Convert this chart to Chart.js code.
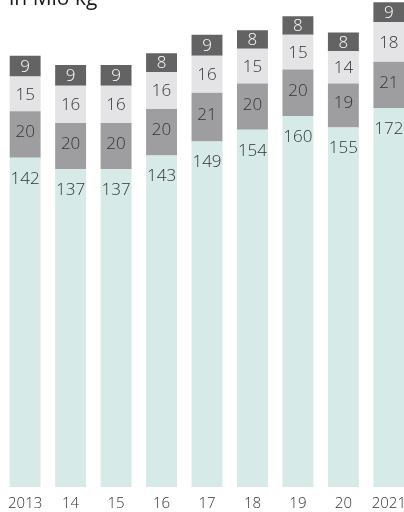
<!DOCTYPE html>
<html>
<head>
<meta charset="utf-8">
<script src="https://cdn.jsdelivr.net/npm/chart.js@4/dist/chart.umd.min.js"></script>
<style>
  html, body { margin: 0; padding: 0; background: #fff; overflow: hidden; }
  #wrap { position: relative; width: 414px; height: 521px; }
</style>
</head>
<body>
<div id="wrap"><canvas id="barChart"></canvas></div>
<script>
// data
var years = ['2013', '14', '15', '16', '17', '18', '19', '20', '2021'];
var tealVals = [142, 137, 137, 143, 149, 154, 160, 155, 172];
var midVals = [20, 20, 20, 20, 21, 20, 20, 19, 21];
var lightVals = [15, 16, 16, 16, 16, 15, 15, 14, 18];
var darkVals = [9, 9, 9, 8, 9, 8, 8, 8, 9];

var segColors = ['#d6ebe7', '#9e9ea1', '#e4e4e6', '#636364'];
var segValues = [tealVals, midVals, lightVals, darkVals];

// the last bar is drawn a bit squashed in the original, so it gets its own axis
var lastIdx = years.length - 1;
var datasets = [];
segValues.forEach(function (vals, s) {
  datasets.push({
    seg: s,
    data: vals.map(function (v, i) { return i < lastIdx ? v : null; }),
    backgroundColor: segColors[s],
    yAxisID: 'y'
  });
});
segValues.forEach(function (vals, s) {
  datasets.push({
    seg: s,
    data: vals.map(function (v, i) { return i === lastIdx ? v : null; }),
    backgroundColor: segColors[s],
    yAxisID: 'y2'
  });
});

//***************//
// LABELS
//***************//
var segLabels = {
  id: 'segLabels',
  afterDatasetsDraw: function (chart) {
    var ctx = chart.ctx;
    ctx.save();
    ctx.font = '300 17px "Open Sans"';
    ctx.textAlign = 'center';
    ctx.textBaseline = 'middle';
    chart.data.datasets.forEach(function (ds, d) {
      var meta = chart.getDatasetMeta(d);
      meta.data.forEach(function (bar, i) {
        var v = ds.data[i];
        if (v === null || v === undefined) return;
        var p = bar.getProps(['x', 'y', 'base'], true);
        var cy = (p.y + p.base) / 2;
        if (ds.seg === 0) cy = p.y + 20;
        if (ds.seg === 1) cy = cy - 3;
        ctx.fillStyle = ds.seg === 3 ? '#ffffff' : '#333333';
        ctx.fillText(String(v), p.x, cy + 1);
      });
    });
    // unit caption, cut off at the top like in the original
    ctx.textAlign = 'left';
    ctx.textBaseline = 'alphabetic';
    ctx.font = '21px "Open Sans"';
    ctx.fillStyle = '#1a1a1a';
    ctx.fillText('in Mio kg', 9, 5);
    ctx.restore();
  }
};

var ctx = document.getElementById('barChart');

new Chart(ctx, {
  type: 'bar',
  data: {
    labels: years,
    datasets: datasets
  },
  options: {
    responsive: true,
    maintainAspectRatio: false,
    animation: false,
    layout: {
      padding: { left: 2, right: 1, top: 0, bottom: 0 }
    },
    datasets: {
      bar: {
        grouped: false,
        categoryPercentage: 1,
        barPercentage: 0.68,
        borderWidth: 0
      }
    },
    plugins: {
      legend: { display: false },
      tooltip: { enabled: false }
    },
    scales: {
      x: {
        stacked: true,
        grid: { display: false, drawTicks: false },
        border: { display: false },
        ticks: {
          padding: 8,
          color: '#333333',
          font: { family: 'Open Sans', size: 15, weight: '300', lineHeight: 1.2 }
        }
      },
      y: {
        stacked: true,
        display: false,
        min: 0,
        max: 210
      },
      y2: {
        stacked: true,
        display: false,
        min: 0,
        max: 221
      }
    }
  },
  plugins: [segLabels]
});
</script>
</body>
</html>
